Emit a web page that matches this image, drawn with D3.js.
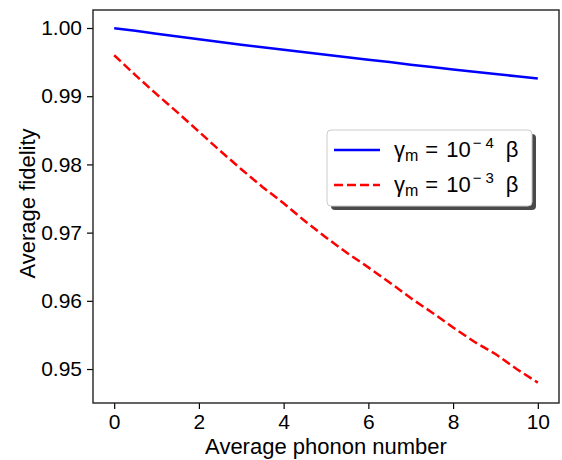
<!DOCTYPE html>
<html>
<head>
<meta charset="utf-8">
<script src="https://cdn.jsdelivr.net/npm/d3@7"></script>
<style>
  html, body { margin: 0; padding: 0; background: #fff; }
  svg { display: block; }
</style>
</head>
<body>
<div id="myChart"></div>
<script>
// Chart data
const phonon = [0, 0.5, 1, 1.5, 2, 2.5, 3, 3.5, 4, 4.5, 5, 5.5, 6, 6.5, 7, 7.5, 8, 8.5, 9, 9.5, 10];
const fidLow = [0.99995, 0.9996, 0.99915, 0.99875, 0.99835, 0.99795, 0.99755, 0.99718, 0.9968, 0.99643,
                0.99607, 0.9957, 0.99535, 0.995, 0.99462, 0.99428, 0.99393, 0.9936, 0.99325, 0.99292, 0.99258];
const fidHigh = [0.9960, 0.9931, 0.9903, 0.9876, 0.9848, 0.9820, 0.9793, 0.9767, 0.9743, 0.9717,
                 0.9693, 0.9670, 0.9649, 0.9627, 0.9604, 0.9583, 0.9561, 0.9540, 0.9522, 0.9500, 0.9480];
const xTicks = [0, 2, 4, 6, 8, 10];
const yTicks = [0.95, 0.96, 0.97, 0.98, 0.99, 1.00];
const exponents = ["4", "3"];

const w = 562;
const h = 460;
const margin = {top: 10, left: 93, bottom: 57, right: 3};
const innerWidth = w - margin.left - margin.right;
const innerHeight = h - margin.top - margin.bottom;
const font = "Liberation Sans, Arial, sans-serif";

const svg = d3.select("#myChart")
  .append("svg")
    .attr("width", w)
    .attr("height", h)
    .attr("font-family", font);

const mainG = svg.append("g")
    .attr("transform", `translate(${margin.left}, ${margin.top})`);

const xScale = d3.scaleLinear().domain([-0.5, 10.5]).range([0, innerWidth]);
const yScale = d3.scaleLinear().domain([0.94502, 1.00264]).range([innerHeight, 0]);

// axes
const xAxis = mainG.append("g")
    .attr("transform", `translate(0,${innerHeight})`)
    .call(d3.axisBottom(xScale).tickValues(xTicks).tickSize(6).tickPadding(5).tickFormat(d3.format("d")));
const yAxis = mainG.append("g")
    .call(d3.axisLeft(yScale).tickValues(yTicks).tickSize(6).tickPadding(5).tickFormat(d3.format(".2f")));

[xAxis, yAxis].forEach(a => {
  a.attr("font-size", 21).attr("font-family", font);
  a.select(".domain").remove();
  a.selectAll(".tick line").attr("stroke", "#000").attr("stroke-width", 1.2);
  a.selectAll(".tick text").attr("fill", "#000");
});

// frame
mainG.append("rect")
    .attr("width", innerWidth)
    .attr("height", innerHeight)
    .attr("fill", "none")
    .attr("stroke", "#222")
    .attr("stroke-width", 1.4);

// labels
svg.append("text")
    .attr("text-anchor", "middle")
    .attr("x", margin.left + xScale(5))
    .attr("y", 454)
    .attr("font-size", 22)
    .text("Average phonon number");

svg.append("text")
    .attr("text-anchor", "middle")
    .attr("transform", `translate(35, ${margin.top + innerHeight / 2 - 3}) rotate(-90)`)
    .attr("font-size", 22)
    .text("Average fidelity");

// lines
const line = d3.line()
    .x(d => xScale(d[0]))
    .y(d => yScale(d[1]));

mainG.append("path")
    .datum(d3.zip(phonon, fidLow))
    .attr("fill", "none")
    .attr("stroke", "#0000ff")
    .attr("stroke-width", 2.5)
    .attr("d", line);

mainG.append("path")
    .datum(d3.zip(phonon, fidHigh))
    .attr("fill", "none")
    .attr("stroke", "#ff0000")
    .attr("stroke-width", 2.5)
    .attr("stroke-dasharray", "9,4")
    .attr("d", line);

// legend
const legend = svg.append("g").attr("transform", "translate(327,130)");
legend.append("rect")
    .attr("x", 4).attr("y", 4)
    .attr("width", 205).attr("height", 76)
    .attr("rx", 4)
    .attr("fill", "#4a4a4a");
legend.append("rect")
    .attr("width", 205).attr("height", 76)
    .attr("rx", 4)
    .attr("fill", "#fff")
    .attr("stroke", "#ccc")
    .attr("stroke-width", 1);

const entries = [
  {color: "#0000ff", dash: null, exp: exponents[0]},
  {color: "#ff0000", dash: "9,4", exp: exponents[1]}
];
entries.forEach((e, i) => {
  const y = 20 + i * 35;
  legend.append("line")
      .attr("x1", 7).attr("x2", 53)
      .attr("y1", y).attr("y2", y)
      .attr("stroke", e.color)
      .attr("stroke-width", 2.5)
      .attr("stroke-dasharray", e.dash);
  // label pieces: gamma, subscript m, "= 10", superscript "−n", beta
  const pieces = [
    {t: "γ", size: 22, dy: 0, gap: 0},
    {t: "m", size: 16, dy: 4, gap: 0},
    {t: "=", size: 22, dy: 0, gap: 7},
    {t: "10", size: 22, dy: 0, gap: 8},
    {t: "−", size: 15, dy: -9, gap: 2},
    {t: e.exp, size: 15, dy: -9, gap: 4},
    {t: "β", size: 22, dy: 0, gap: 12}
  ];
  let cx = 67;
  pieces.forEach(p => {
    cx += p.gap;
    const node = legend.append("text")
        .attr("x", cx)
        .attr("y", y + 7 + p.dy)
        .attr("font-size", p.size)
        .attr("fill", "#000")
        .text(p.t);
    cx += node.node().getComputedTextLength();
  });
});
</script>
</body>
</html>
